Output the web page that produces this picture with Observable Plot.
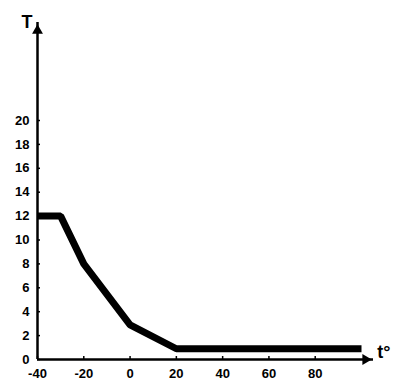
<!DOCTYPE html>
<html>
<head>
<meta charset="utf-8">
<script src="https://cdn.jsdelivr.net/npm/d3@7"></script>
<script src="https://cdn.jsdelivr.net/npm/@observablehq/plot@0.6"></script>
<style>
  html, body { margin: 0; padding: 0; background: #fff; }
</style>
</head>
<body>
<div id="chart"></div>
<script>
// Data
const tValues = [-40, -30, -20, 0, 20, 100];
const TValues = [12, 12, 8, 2.9, 0.9, 0.9];
const xTicks = [-40, -20, 0, 20, 40, 60, 80];
const yTicks = [0, 2, 4, 6, 8, 10, 12, 14, 16, 18, 20];
const yLabel = "T";
const xLabel = "t°";

const data = tValues.map((t, i) => ({ t, T: TValues[i] }));

const chart = Plot.plot({
  width: 400,
  height: 382,
  marginLeft: 37,
  marginRight: 27,
  marginTop: 22,
  marginBottom: 23,
  style: { fontFamily: "'Liberation Sans', Arial, sans-serif", fontWeight: "bold", background: "#fff", color: "#000" },
  x: { domain: [-40, 100], range: [37, 361], label: null },
  y: { domain: [0, 20], range: [359, 120], label: null },
  marks: [
    Plot.axisY({ ticks: yTicks, label: null, tickSize: -3, tickPadding: 11, fontSize: 13, fontWeight: "bold", tickFormat: d => String(d), strokeWidth: 1.5 }),
    Plot.axisX({ ticks: xTicks, label: null, tickSize: -3, tickPadding: 12, fontSize: 13, fontWeight: "bold", tickFormat: d => String(d), strokeWidth: 1.5 }),
    Plot.ruleX([-40], { strokeWidth: 2.5 }),
    Plot.ruleY([0], { strokeWidth: 2.5 }),
    Plot.dot([0], { frameAnchor: "top-left", dy: 8, symbol: "triangle2", r: 5.2, fill: "#000", stroke: "none" }),
    Plot.dot([0], { frameAnchor: "bottom-right", dx: -8, rotate: 90, symbol: "triangle2", r: 5.2, fill: "#000", stroke: "none" }),
    Plot.line(data, { x: "t", y: "T", stroke: "#000", strokeWidth: 7, strokeLinejoin: "miter", strokeLinecap: "butt" }),
    Plot.text([yLabel], { frameAnchor: "top-left", dx: -16, dy: -7, fontSize: 18, fontWeight: "bold", text: d => d }),
    Plot.text([xLabel], { frameAnchor: "bottom-right", dx: 17, dy: -2, fontSize: 18, fontWeight: "bold", text: d => d })
  ]
});
document.getElementById("chart").appendChild(chart);
</script>
</body>
</html>
